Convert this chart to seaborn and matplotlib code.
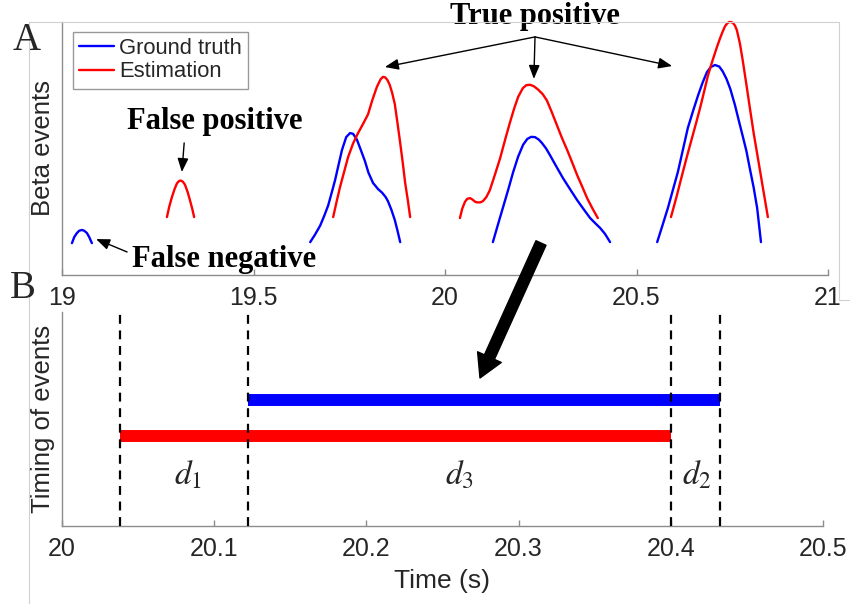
import numpy as np
import pandas as pd
import seaborn as sns
import matplotlib.pyplot as plt
from matplotlib.lines import Line2D
from matplotlib.patches import FancyArrowPatch

# ---- data ----
# panel A: beta event envelopes (time in s, amplitude in a.u.)
fn_gt_t = [19.026, 19.032, 19.039, 19.045, 19.052, 19.058, 19.065, 19.071, 19.078]
fn_gt_y = [0.126, 0.150, 0.166, 0.175, 0.178, 0.175, 0.166, 0.150, 0.126]

fp_est_t = [19.274, 19.280, 19.287, 19.294, 19.300, 19.306, 19.311, 19.316,
            19.321, 19.328, 19.334, 19.340, 19.345]
fp_est_y = [0.229, 0.270, 0.308, 0.340, 0.362, 0.372, 0.373, 0.368,
            0.357, 0.328, 0.296, 0.262, 0.229]

tp1_gt_t = [19.648, 19.660, 19.674, 19.685, 19.695, 19.705, 19.713, 19.722,
            19.731, 19.742, 19.752, 19.760, 19.770, 19.780, 19.791, 19.800,
            19.812, 19.825, 19.836, 19.845, 19.851, 19.860, 19.869, 19.876, 19.883]
tp1_gt_y = [0.130, 0.158, 0.195, 0.235, 0.275, 0.330, 0.375, 0.435,
            0.494, 0.545, 0.561, 0.558, 0.535, 0.495, 0.450, 0.405,
            0.364, 0.340, 0.325, 0.308, 0.292, 0.258, 0.217, 0.175, 0.130]
tp1_est_t = [19.708, 19.717, 19.726, 19.737, 19.747, 19.760, 19.773, 19.787,
             19.799, 19.810, 19.822, 19.832, 19.838, 19.844, 19.850, 19.856,
             19.862, 19.869, 19.876, 19.883, 19.890, 19.896, 19.903, 19.909]
tp1_est_y = [0.229, 0.290, 0.348, 0.410, 0.466, 0.520, 0.561, 0.600,
             0.635, 0.690, 0.743, 0.774, 0.783, 0.781, 0.770, 0.750,
             0.720, 0.675, 0.600, 0.522, 0.440, 0.364, 0.295, 0.229]

tp2_gt_t = [20.125, 20.138, 20.151, 20.165, 20.178, 20.191, 20.204, 20.215,
            20.225, 20.235, 20.245, 20.253, 20.264, 20.274, 20.291, 20.308,
            20.327, 20.345, 20.362, 20.379, 20.392, 20.405, 20.418, 20.431]
tp2_gt_y = [0.130, 0.198, 0.265, 0.337, 0.407, 0.468, 0.515, 0.538,
            0.546, 0.545, 0.535, 0.522, 0.500, 0.474, 0.428, 0.383,
            0.338, 0.296, 0.260, 0.225, 0.205, 0.186, 0.162, 0.130]
tp2_est_t = [20.039, 20.045, 20.052, 20.058, 20.065, 20.072, 20.078, 20.084,
             20.092, 20.099, 20.108, 20.117, 20.130, 20.144, 20.157, 20.170,
             20.181, 20.191, 20.203, 20.212, 20.222, 20.232, 20.243, 20.255,
             20.266, 20.279, 20.292, 20.305, 20.319, 20.332, 20.345, 20.358,
             20.371, 20.385, 20.399]
tp2_est_y = [0.225, 0.262, 0.289, 0.301, 0.304, 0.298, 0.290, 0.287,
             0.287, 0.292, 0.308, 0.335, 0.395, 0.462, 0.535, 0.605,
             0.660, 0.704, 0.738, 0.750, 0.752, 0.746, 0.733, 0.715,
             0.690, 0.643, 0.593, 0.543, 0.494, 0.445, 0.395, 0.350,
             0.304, 0.263, 0.225]

tp3_gt_t = [20.554, 20.568, 20.582, 20.595, 20.608, 20.621, 20.634, 20.648,
            20.661, 20.673, 20.684, 20.694, 20.705, 20.716, 20.725, 20.735,
            20.745, 20.757, 20.768, 20.778, 20.787, 20.796, 20.806, 20.815, 20.825]
tp3_gt_y = [0.130, 0.197, 0.265, 0.336, 0.407, 0.494, 0.581, 0.650,
            0.711, 0.762, 0.802, 0.822, 0.830, 0.824, 0.805, 0.775,
            0.735, 0.672, 0.605, 0.545, 0.490, 0.420, 0.345, 0.265, 0.130]
tp3_est_t = [20.590, 20.605, 20.619, 20.632, 20.645, 20.656, 20.666, 20.677,
             20.687, 20.699, 20.710, 20.718, 20.725, 20.731, 20.737, 20.742,
             20.747, 20.752, 20.757, 20.762, 20.770, 20.778, 20.787, 20.796,
             20.806, 20.817, 20.830, 20.843]
tp3_est_y = [0.229, 0.312, 0.395, 0.470, 0.542, 0.603, 0.660, 0.728,
             0.791, 0.850, 0.901, 0.935, 0.962, 0.983, 0.995, 1.000,
             1.000, 0.996, 0.986, 0.968, 0.915, 0.842, 0.752, 0.660,
             0.560, 0.462, 0.345, 0.229]

# panel B: timing of the matched event
gt_start, gt_end = 20.122, 20.432
est_start, est_end = 20.038, 20.400
d_labels = ['$d_1$', '$d_3$', '$d_2$']
d_label_x = [20.083, 20.261, 20.417]

top_ticks = [19, 19.5, 20, 20.5, 21]
top_ticklabels = ['19', '19.5', '20', '20.5', '21']
bot_ticks = [20, 20.1, 20.2, 20.3, 20.4, 20.5]
bot_ticklabels = ['20', '20.1', '20.2', '20.3', '20.4', '20.5']

events = [
    ('fn', 'Ground truth', fn_gt_t, fn_gt_y),
    ('fp', 'Estimation', fp_est_t, fp_est_y),
    ('tp1g', 'Ground truth', tp1_gt_t, tp1_gt_y),
    ('tp1e', 'Estimation', tp1_est_t, tp1_est_y),
    ('tp2g', 'Ground truth', tp2_gt_t, tp2_gt_y),
    ('tp2e', 'Estimation', tp2_est_t, tp2_est_y),
    ('tp3g', 'Ground truth', tp3_gt_t, tp3_gt_y),
    ('tp3e', 'Estimation', tp3_est_t, tp3_est_y),
]
rows = []
for ev, kind, ts, ys in events:
    for t, y in zip(ts, ys):
        rows.append({'event': ev, 'kind': kind, 't': t, 'amp': y})
df = pd.DataFrame(rows)

# ---- style ----
sns.set_theme(style='white')
plt.rcParams['font.family'] = ['Liberation Sans', 'DejaVu Sans']
plt.rcParams['mathtext.fontset'] = 'stix'
spine_col = '#8c8c8c'
txt_col = '#262626'
pal = {'Ground truth': 'blue', 'Estimation': 'red'}

W, H = 850, 604
fig = plt.figure(figsize=(8.5, 6.04), dpi=100)
ax1 = fig.add_axes([62 / W, 1 - 275 / H, 766 / W, 253 / H])
ax2 = fig.add_axes([62 / W, 1 - 526 / H, 761 / W, 214 / H])

# ---- panel A ----
sns.lineplot(data=df, x='t', y='amp', hue='kind', units='event', estimator=None,
             sort=False, palette=pal, lw=1.7, legend=False, ax=ax1)
for ln in ax1.get_lines():
    ln.set_clip_on(False)
    ln.set_solid_joinstyle('round')
ax1.set_xlim(19, 21)
ax1.set_ylim(0, 1)
ax1.set_xticks(top_ticks)
ax1.set_xticklabels(top_ticklabels)
ax1.set_yticks([])
ax1.set_xlabel('')
ax1.set_ylabel('Beta events', fontsize=18.5, color=txt_col)
ax1.yaxis.set_label_coords(-0.009, 0.5)

handles = [Line2D([], [], color=pal[k], lw=1.7) for k in ['Ground truth', 'Estimation']]
leg = ax1.legend(handles, ['Ground truth', 'Estimation'], loc='upper left',
                 bbox_to_anchor=(0.0145, 0.962), borderaxespad=0, fontsize=15.8,
                 frameon=True, fancybox=False, edgecolor='#808080',
                 handlelength=1.6, handletextpad=0.2, labelspacing=0.12,
                 borderpad=0.28)
leg.get_frame().set_linewidth(1.0)
for t in leg.get_texts():
    t.set_color(txt_col)

bold = dict(family='Liberation Serif', fontsize=22, fontweight='bold',
            ha='center', va='center', color='black')
small_arrow = dict(arrowstyle='-|>,head_length=0.55,head_width=0.22',
                   color='black', lw=1.0, mutation_scale=15, shrinkA=0, shrinkB=0)

ax1.text(20.235, 1.02, 'True positive', clip_on=False, **bold)
for tip in [(19.843, 0.822), (20.232, 0.775), (20.593, 0.826)]:
    ax1.annotate('', xy=tip, xytext=(20.235, 0.941), arrowprops=small_arrow,
                 annotation_clip=False)
ax1.text(19.399, 0.605, 'False positive', **bold)
ax1.annotate('', xy=(19.313, 0.407), xytext=(19.319, 0.522), arrowprops=small_arrow)
ax1.text(19.423, 0.063, 'False negative', **bold)
ax1.annotate('', xy=(19.089, 0.142), xytext=(19.170, 0.091), arrowprops=small_arrow)

# ---- panel B ----
ax2.hlines(0.589, gt_start, gt_end, color='blue', lw=8.6, capstyle='butt')
ax2.hlines(0.42, est_start, est_end, color='red', lw=8.6, capstyle='butt')
for xv in [est_start, gt_start, est_end, gt_end]:
    ax2.axvline(xv, color='black', lw=1.6, ls=(0, (4, 3)), zorder=3)
for lab, xv in zip(d_labels, d_label_x):
    ax2.text(xv, 0.235, lab, fontsize=24, ha='center', va='center')
ax2.set_xlim(20, 20.5)
ax2.set_ylim(0, 1)
ax2.set_xticks(bot_ticks)
ax2.set_xticklabels(bot_ticklabels)
ax2.set_yticks([])
ax2.set_xlabel('Time (s)', fontsize=19, color=txt_col, labelpad=6)
ax2.set_ylabel('Timing of events', fontsize=18.5, color=txt_col)
ax2.yaxis.set_label_coords(-0.009, 0.5)

for ax in (ax1, ax2):
    for s in ('top', 'right'):
        ax.spines[s].set_visible(False)
    for s in ('left', 'bottom'):
        ax.spines[s].set_color(spine_col)
        ax.spines[s].set_linewidth(1.0)
    ax.tick_params(axis='x', direction='in', length=4, width=1.0, color=spine_col,
                   labelsize=18, labelcolor=txt_col, pad=8, bottom=True)

# big arrow linking the matched event in A to its timing in B
fig.add_artist(FancyArrowPatch(
    (541 / W, 1 - 243 / H), (480 / W, 1 - 378 / H), transform=fig.transFigure,
    arrowstyle='simple,head_length=0.75,head_width=0.85,tail_width=0.36',
    mutation_scale=22, color='black', shrinkA=0, shrinkB=0))

# outer frame lines and panel letters
frame_col = '#d0d0d0'
for (xa, ya), (xb, yb) in [((29, 22), (29, 604)), ((29, 22), (839, 22)),
                           ((839, 22), (839, 300)), ((839, 300), (850, 300))]:
    fig.add_artist(Line2D([xa / W, xb / W], [1 - ya / H, 1 - yb / H],
                          transform=fig.transFigure, color=frame_col, lw=0.8))
fig.text(27 / W, 1 - 40 / H, 'A', family='Liberation Serif', fontsize=28,
         ha='center', va='center')
fig.text(23 / W, 1 - 288 / H, 'B', family='Liberation Serif', fontsize=28,
         ha='center', va='center')

fig.savefig('out.png', dpi=100)
